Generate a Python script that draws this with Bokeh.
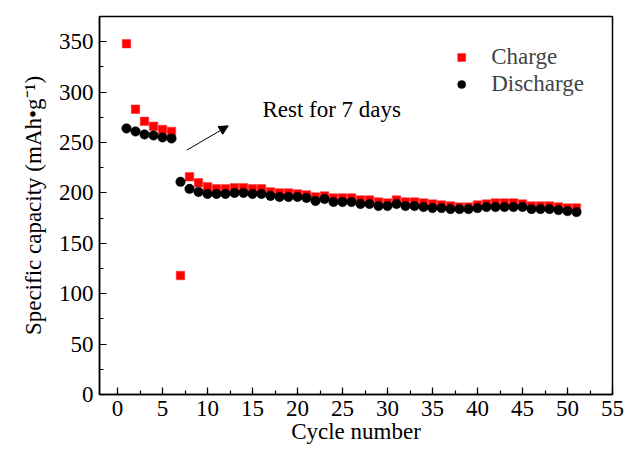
from bokeh.plotting import figure
from bokeh.models import (Range1d, Legend, LegendItem, Label, Arrow, NormalHead,
                          FixedTicker)
from bokeh.embed import file_html
from bokeh.resources import INLINE

# Cycling data: charge / discharge specific capacity (mAh/g) per cycle
cycles = list(range(1, 52))
charge = [348, 283, 271, 266, 263, 261, 118, 216, 210, 206,
          204, 204, 205, 205, 204, 204, 201, 200, 200, 199,
          198, 196, 197, 195, 195, 195, 193, 193, 191, 190,
          193, 191, 191, 190, 189, 188, 187, 186, 186, 188,
          189, 190, 190, 190, 189, 187, 187, 187, 186, 185,
          185]
discharge = [264, 261, 258, 257, 255, 254, 211, 204, 201, 199,
             199, 199, 200, 200, 199, 199, 197, 196, 196, 196,
             195, 192, 194, 191, 191, 191, 189, 189, 187, 187,
             189, 187, 187, 186, 185, 185, 184, 184, 184, 185,
             186, 186, 186, 186, 186, 184, 184, 184, 183, 182,
             181]
x_ticks = list(range(0, 56, 5))
y_ticks = list(range(0, 351, 50))

FONT = "Liberation Serif"

p = figure(width=625, height=450, output_backend="svg", toolbar_location=None,
           x_range=Range1d(-2, 55), y_range=Range1d(0, 375),
           min_border_left=99, min_border_right=13,
           min_border_top=16, min_border_bottom=56)

p.xgrid.visible = False
p.ygrid.visible = False
p.outline_line_color = "black"
p.outline_line_width = 1.5
p.background_fill_color = "white"
p.border_fill_color = "white"

p.xaxis.ticker = FixedTicker(ticks=x_ticks,
                             minor_ticks=[i * 2.5 for i in range(0, 23)])
p.yaxis.ticker = FixedTicker(ticks=y_ticks,
                             minor_ticks=[i * 25 for i in range(0, 16)])

for ax in (p.xaxis[0], p.yaxis[0]):
    ax.axis_line_color = "black"
    ax.axis_line_width = 1.5
    ax.major_tick_in = 7
    ax.major_tick_out = 0
    ax.minor_tick_in = 4
    ax.minor_tick_out = 0
    ax.major_tick_line_width = 1.2
    ax.minor_tick_line_width = 1.2
    ax.major_tick_line_color = "black"
    ax.minor_tick_line_color = "black"
    ax.major_label_text_font = FONT
    ax.major_label_text_font_size = "23px"
    ax.major_label_text_color = "black"
    ax.axis_label_text_font = FONT
    ax.axis_label_text_font_size = "23px"
    ax.axis_label_text_font_style = "normal"
    ax.axis_label_text_color = "black"

p.xaxis.axis_label = "Cycle number"
p.xaxis.major_label_standoff = 6
p.xaxis.axis_label_standoff = 0
p.yaxis.axis_label = "Specific capacity (mAh\u2022g\u207b\u00b9)"
p.yaxis.major_label_standoff = 6
p.yaxis.axis_label_standoff = 10

r_charge = p.scatter(cycles, charge, marker="square", size=8.5,
                     fill_color="#ff0000", line_color="#ff3030", line_width=0.5)
r_dis = p.scatter(cycles, discharge, marker="circle", size=9.5,
                  fill_color="black", line_color="black", line_width=0.5)

legend = Legend(items=[LegendItem(label="Charge", renderers=[r_charge]),
                       LegendItem(label="Discharge", renderers=[r_dis])],
                location="top_right", margin=20, padding=8, spacing=1,
                glyph_width=20, glyph_height=20, label_standoff=20,
                label_text_font=FONT, label_text_font_size="23px",
                border_line_alpha=0, background_fill_alpha=0)
p.add_layout(legend)

p.add_layout(Label(x=16.1, y=283, text="Rest for 7 days", text_font=FONT,
                   text_font_size="23px", text_baseline="middle",
                   text_color="black"))
p.add_layout(Arrow(end=NormalHead(size=9, fill_color="black", line_color="black",
                                  line_width=1),
                   x_start=7.7, y_start=242.4, x_end=12.3, y_end=266.5,
                   line_color="black", line_width=1))

open("out.html", "w").write(file_html(p, INLINE))
